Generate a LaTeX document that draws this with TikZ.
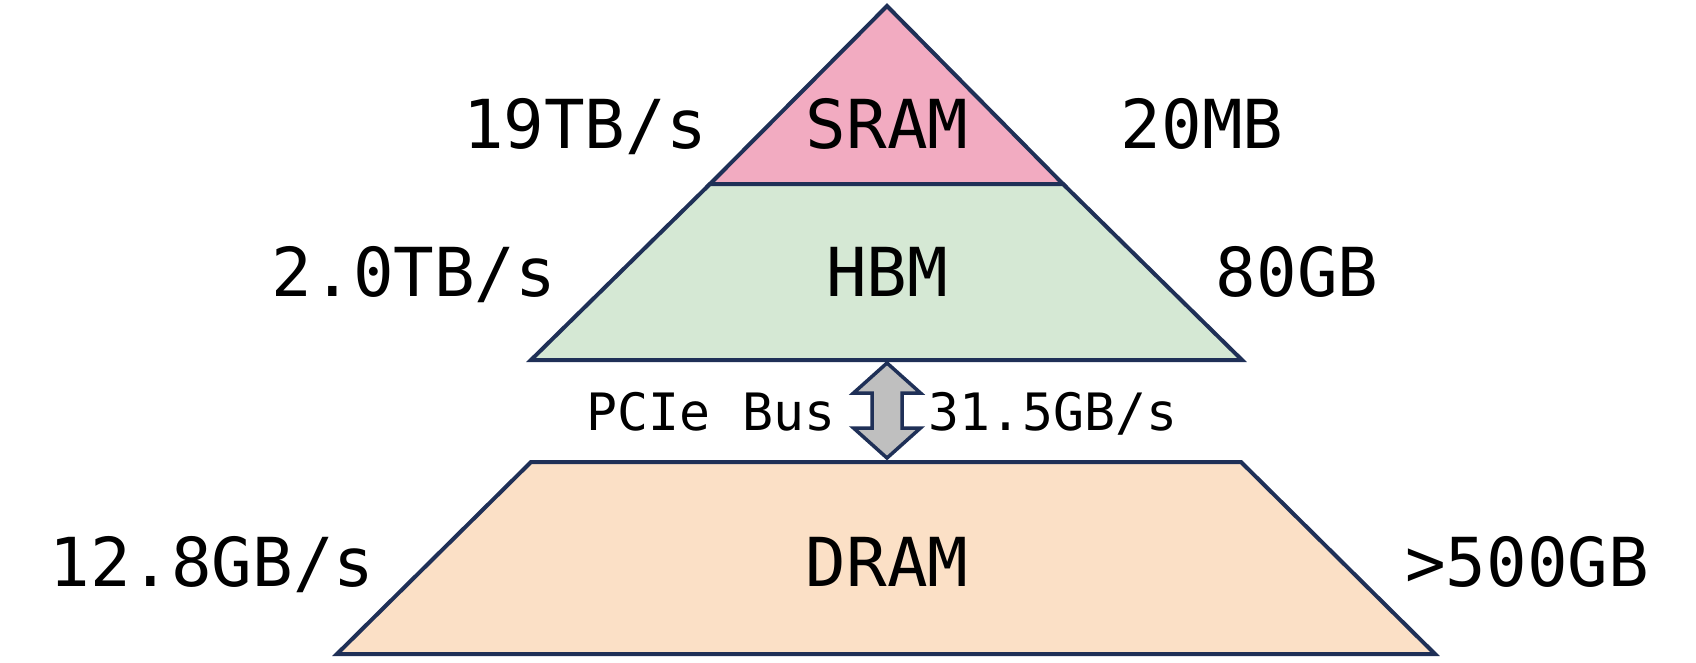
\documentclass[tikz,border=0pt]{standalone}
\usepackage{fontspec}
\setmonofont{DejaVu Sans Mono}
\definecolor{edge}{HTML}{1F3057}
\definecolor{sramfill}{HTML}{F2ABC1}
\definecolor{hbmfill}{HTML}{D5E8D4}
\definecolor{dramfill}{HTML}{FBE0C6}
\definecolor{busfill}{HTML}{BFBFBF}
\begin{document}
\begin{tikzpicture}[x=1pt,y=-1pt,
  level/.style={draw=edge,line width=4pt,line join=miter},
  big/.style={font=\ttfamily\fontsize{67.5}{70}\selectfont,anchor=base,inner sep=0pt},
  small/.style={font=\ttfamily\fontsize{51.5}{54}\selectfont,anchor=base,inner sep=0pt}]
\useasboundingbox (0,0) rectangle (1696,662);
% pyramid corners
\coordinate (apex) at (887,6);
\coordinate (sl) at (710,184);
\coordinate (sr) at (1063,184);
\coordinate (hl) at (531,360);
\coordinate (hr) at (1242,360);
\coordinate (dtl) at (531,462);
\coordinate (dtr) at (1241,462);
\coordinate (dbl) at (337,654);
\coordinate (dbr) at (1435,654);
% levels
\filldraw[level,fill=sramfill] (apex) -- (sr) -- (sl) -- cycle;
\filldraw[level,fill=hbmfill] (sl) -- (sr) -- (hr) -- (hl) -- cycle;
\filldraw[level,fill=dramfill] (dtl) -- (dtr) -- (dbr) -- (dbl) -- cycle;
% PCIe double arrow
\coordinate (at) at (887,363);
\coordinate (ab) at (887,458);
\filldraw[draw=edge,line width=3.5pt,fill=busfill,line join=miter]
  (at) -- ++(33.5,30) -- ++(-18.5,0) -- ++(0,35) -- ++(18.5,0) -- (ab)
  -- ++(-33.5,-30) -- ++(18.5,0) -- ++(0,-35) -- ++(-18.5,0) -- cycle;
% labels
\node[big] (sram) at (887,148) {SRAM};
\node[big] (sbw) at (585,148) {19TB/s};
\node[big] (scap) at (1202,148) {20MB};
\node[big] (hbm) at (887,296) {HBM};
\node[big] (hbw) at (414,296) {2.0TB/s};
\node[big] (hcap) at (1297,296) {80GB};
\node[small] (pcie) at (711,430) {PCIe Bus};
\node[small] (pbw) at (1053,430) {31.5GB/s};
\node[big] (dram) at (887,586) {DRAM};
\node[big] (dbw) at (212,586) {12.8GB/s};
\node[big] (dcap) at (1527,586) {>500GB};
\end{tikzpicture}
\end{document}
